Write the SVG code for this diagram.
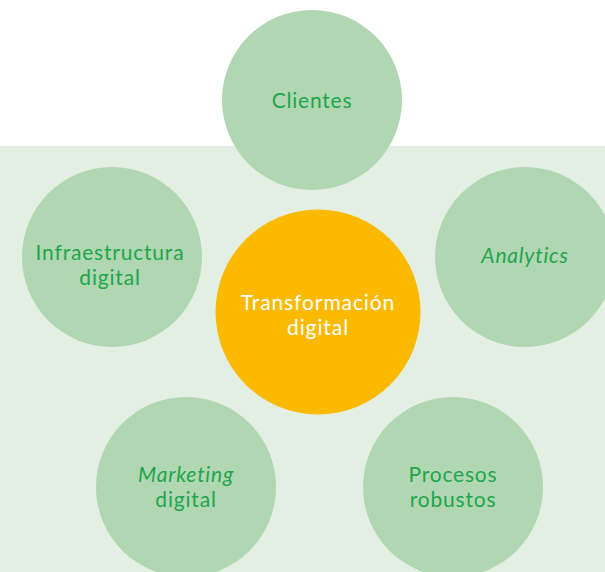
<svg xmlns="http://www.w3.org/2000/svg" width="605" height="572" viewBox="0 0 605 572">
<style>
.c{fill:#b0d6b2}
.t{font-family:Lato,"Noto Sans","Liberation Sans",sans-serif;font-size:21px;letter-spacing:0.8px;fill:#1ea64b;text-anchor:middle}
.w{font-family:Lato,"Noto Sans","Liberation Sans",sans-serif;font-size:21px;letter-spacing:0.9px;fill:#ffffff;text-anchor:middle}
.i{font-style:italic}
</style>
<rect x="0" y="0" width="605" height="572" fill="#ffffff"/>
<rect x="0" y="146" width="605" height="426" fill="#e3efe3"/>
<g id="connectors"></g>
<g id="clientes"><circle class="c" cx="312" cy="100" r="90"/><text class="t" x="312" y="108">Clientes</text></g>
<g id="infraestructura"><circle class="c" cx="112" cy="257" r="90"/><text class="t" x="110" y="260">Infraestructura</text><text class="t" x="110" y="285">digital</text></g>
<g id="analytics"><circle class="c" cx="525" cy="257" r="90"/><text class="t i" x="525" y="263">Analytics</text></g>
<g id="transformacion"><circle cx="318" cy="312" r="102.5" fill="#fbba00"/><text class="w" x="318" y="310">Transformación</text><text class="w" x="318" y="335">digital</text></g>
<g id="marketing"><circle class="c" cx="186" cy="487" r="90"/><text class="t i" x="186" y="482">Marketing</text><text class="t" x="186" y="507">digital</text></g>
<g id="procesos"><circle class="c" cx="453" cy="487" r="90"/><text class="t" x="453" y="482">Procesos</text><text class="t" x="453" y="507">robustos</text></g>
</svg>
